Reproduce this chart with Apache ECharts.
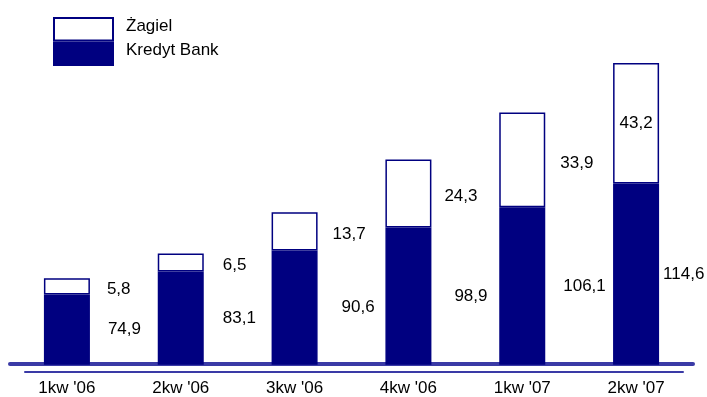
<!DOCTYPE html>
<html>
<head>
<meta charset="utf-8">
<script src="https://cdn.jsdelivr.net/npm/echarts@6/dist/echarts.min.js"></script>
<style>html,body{margin:0;padding:0;background:#fff}#c{width:707px;height:397px}</style>
</head>
<body>
<div id="c"></div>
<script>
const categories = ["1kw '06", "2kw '06", "3kw '06", "4kw '06", "1kw '07", "2kw '07"];
const kredytBank = [74.9, 83.1, 90.6, 98.9, 106.1, 114.6];
const zagiel = [5.8, 6.5, 13.7, 24.3, 33.9, 43.2];
const seriesNames = ["Żagiel", "Kredyt Bank"];

// label styling (distance from bar edge)
const kbLabelGap = [18, 19, 24, 23, 18, 4];
const zLabelGap = [17, 19, 15, 13, 15, null];

const NAVY = '#000080';
const AXIS = '#3a3aa6';
const FONT = 'Arial, "Liberation Sans", sans-serif';
const FS = 17;
const fmt = p => Number(p.value).toFixed(1).replace('.', ',');

const chart = echarts.init(document.getElementById('c'), null, {renderer: 'canvas'});
chart.setOption({
  animation: false,
  textStyle: {fontFamily: FONT},
  legend: {
    orient: 'vertical', left: 53, top: 17, itemGap: 0, padding: 0,
    itemWidth: 59, itemHeight: 22.5, icon: 'rect',
    data: [seriesNames[0], seriesNames[1]],
    formatter: '{a|{name}}',
    textStyle: {
      fontSize: FS, color: '#000', fontFamily: FONT,
      rich: {a: {fontSize: FS, color: '#000', fontFamily: FONT, lineHeight: 16, padding: [0, 0, 6, 8]}}
    },
    selectedMode: false
  },
  grid: [
    {left: 10, right: 14, top: 40, bottom: 33},
    {left: 25, right: 24, top: 40, bottom: 33}
  ],
  xAxis: [
    {
      type: 'category', data: categories, gridIndex: 0,
      axisLine: {lineStyle: {color: AXIS, width: 4, cap: 'round'}},
      axisTick: {show: false},
      axisLabel: {fontSize: FS, color: '#000', margin: 16, fontFamily: FONT}
    },
    {
      type: 'category', data: categories, gridIndex: 1, offset: 8,
      axisLine: {onZero: false, lineStyle: {color: AXIS, width: 2}},
      axisTick: {show: false}, axisLabel: {show: false}
    }
  ],
  yAxis: [
    {type: 'value', min: 50, max: 166, show: false, gridIndex: 0},
    {type: 'value', min: 0, max: 1, show: false, gridIndex: 1}
  ],
  series: [
    {
      name: seriesNames[1], type: 'bar', stack: 's', barWidth: 46, clip: true,
      itemStyle: {color: NAVY, borderColor: NAVY, borderWidth: 1.5},
      label: {show: true, position: 'right', formatter: fmt, fontSize: FS, color: '#000', fontFamily: FONT},
      data: kredytBank.map((v, i) => ({value: v, label: {distance: kbLabelGap[i]}}))
    },
    {
      name: seriesNames[0], type: 'bar', stack: 's', barWidth: 46, clip: true,
      itemStyle: {color: '#fff', borderColor: NAVY, borderWidth: 1.5},
      label: {show: true, position: 'right', formatter: fmt, fontSize: FS, color: '#000', fontFamily: FONT, offset: [0, 3]},
      data: zagiel.map((v, i) => ({
        value: v,
        label: zLabelGap[i] == null ? {position: 'inside', offset: [0, 0]} : {distance: zLabelGap[i]}
      }))
    },
    {
      type: 'line', xAxisIndex: 1, yAxisIndex: 1, data: [], silent: true
    }
  ]
});
</script>
</body>
</html>
